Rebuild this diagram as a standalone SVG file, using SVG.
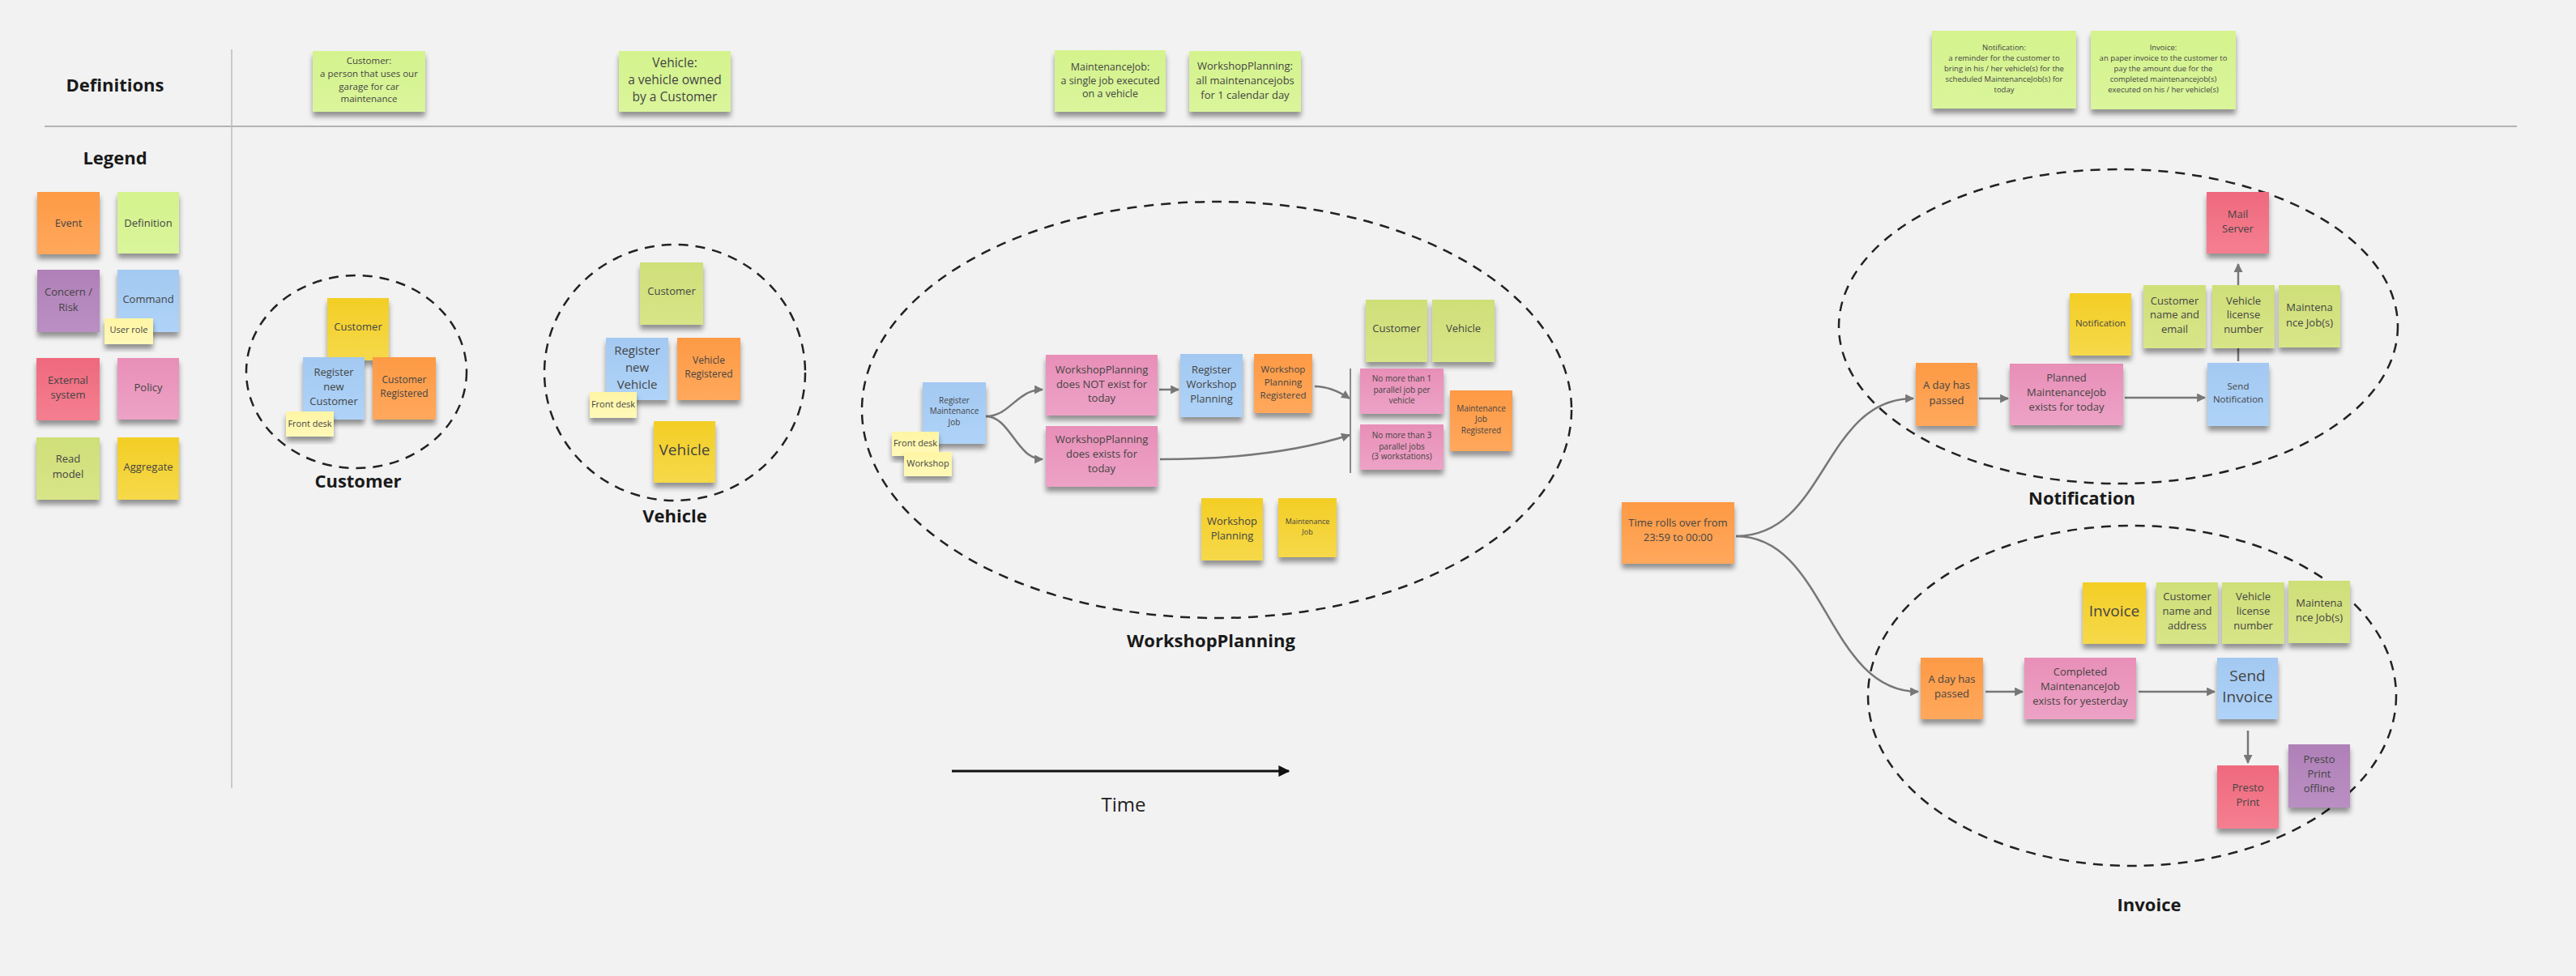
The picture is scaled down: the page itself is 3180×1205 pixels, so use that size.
<svg xmlns="http://www.w3.org/2000/svg" width="3180" height="1205" viewBox="0 0 3180 1205">
<defs>
<linearGradient id="gEv" x1="0" y1="0" x2="0" y2="1"><stop offset="0" stop-color="#FD9A45"/><stop offset="1" stop-color="#FFA85C"/></linearGradient>
<linearGradient id="gDf" x1="0" y1="0" x2="0" y2="1"><stop offset="0" stop-color="#D4F38D"/><stop offset="1" stop-color="#DAF59B"/></linearGradient>
<linearGradient id="gCr" x1="0" y1="0" x2="0" y2="1"><stop offset="0" stop-color="#AF80B8"/><stop offset="1" stop-color="#BA8FC3"/></linearGradient>
<linearGradient id="gCm" x1="0" y1="0" x2="0" y2="1"><stop offset="0" stop-color="#A3C9F2"/><stop offset="1" stop-color="#AFD3F8"/></linearGradient>
<linearGradient id="gUr" x1="0" y1="0" x2="0" y2="1"><stop offset="0" stop-color="#FFF5A4"/><stop offset="1" stop-color="#FFF9B9"/></linearGradient>
<linearGradient id="gEx" x1="0" y1="0" x2="0" y2="1"><stop offset="0" stop-color="#EF697D"/><stop offset="1" stop-color="#F47F90"/></linearGradient>
<linearGradient id="gPo" x1="0" y1="0" x2="0" y2="1"><stop offset="0" stop-color="#E88FB8"/><stop offset="1" stop-color="#EDA2C6"/></linearGradient>
<linearGradient id="gRm" x1="0" y1="0" x2="0" y2="1"><stop offset="0" stop-color="#CFDF78"/><stop offset="1" stop-color="#D8E588"/></linearGradient>
<linearGradient id="gAg" x1="0" y1="0" x2="0" y2="1"><stop offset="0" stop-color="#F3CE25"/><stop offset="1" stop-color="#F6D94A"/></linearGradient>
<filter id="sh" x="-20%" y="-20%" width="140%" height="150%">
<feGaussianBlur in="SourceAlpha" stdDeviation="3"/>
<feOffset dx="0" dy="6"/>
<feComponentTransfer><feFuncA type="linear" slope="0.4"/></feComponentTransfer>
<feMerge><feMergeNode/><feMergeNode in="SourceGraphic"/></feMerge>
</filter>
<marker id="ah" viewBox="0 0 10 10" refX="9" refY="5" markerWidth="11" markerHeight="11" markerUnits="userSpaceOnUse" orient="auto"><path d="M0,0 L10,5 L0,10 z" fill="#777"/></marker>
<marker id="ahb" viewBox="0 0 10 10" refX="9" refY="5" markerWidth="14" markerHeight="14" markerUnits="userSpaceOnUse" orient="auto"><path d="M0,0 L10,5 L0,10 z" fill="#111"/></marker>
</defs>
<style>
.s{filter:url(#sh)}
.ev{fill:url(#gEv)}.df{fill:url(#gDf)}.cr{fill:url(#gCr)}.cm{fill:url(#gCm)}.ur{fill:url(#gUr)}.ex{fill:url(#gEx)}.po{fill:url(#gPo)}.rm{fill:url(#gRm)}.ag{fill:url(#gAg)}
.t{font-family:"Open Sans","Liberation Sans",sans-serif;fill:#444;text-anchor:middle}
.h{font-family:"Open Sans","Liberation Sans",sans-serif;font-weight:700;font-size:22px;fill:#1a1a1a;text-anchor:middle}
.c{fill:none;stroke:#777;stroke-width:2.5;marker-end:url(#ah)}
.b{fill:none;stroke:#222;stroke-width:2.5;stroke-dasharray:12 9}
</style>
<rect x="0" y="0" width="3180" height="1205" fill="#F2F2F2"/>

<g id="frame">
<line x1="55" y1="156" x2="3107" y2="156" stroke="#b3b3b3" stroke-width="2"/>
<line x1="286" y1="61" x2="286" y2="973" stroke="#bbb" stroke-width="1.5"/>
<text class="h" x="142" y="113">Definitions</text>
<text class="h" x="142" y="203">Legend</text>
</g>

<g id="boundaries">
<ellipse class="b" cx="440" cy="459" rx="136" ry="119"/>
<ellipse class="b" cx="833" cy="460" rx="161" ry="158"/>
<ellipse class="b" cx="1502" cy="506" rx="438" ry="257"/>
<ellipse class="b" cx="2615" cy="403" rx="345" ry="194"/>
<ellipse class="b" cx="2632" cy="859" rx="326" ry="210"/>
<text class="h" x="442" y="602">Customer</text>
<text class="h" x="833" y="645">Vehicle</text>
<text class="h" x="1495" y="799">WorkshopPlanning</text>
<text class="h" x="2570" y="623">Notification</text>
<text class="h" x="2653" y="1125">Invoice</text>
</g>

<g id="time">
<line x1="1175" y1="952" x2="1591" y2="952" stroke="#111" stroke-width="3" marker-end="url(#ahb)"/>
<text x="1387" y="1002" font-family="'Open Sans','Liberation Sans',sans-serif" font-size="24" fill="#222" text-anchor="middle">Time</text>
</g>

<g id="connectors">
<path class="c" d="M1217,514 C1247,514 1255,481 1287,481"/>
<path class="c" d="M1217,514 C1247,514 1255,567 1287,567"/>
<path class="c" d="M1431,481 L1455,481"/>
<path class="c" d="M1623,477 C1640,477 1654,484 1666,492"/>
<path class="c" d="M1432,567 C1530,567 1610,555 1666,537"/>
<path class="c" d="M2143,662 C2255,662 2250,492 2362,492"/>
<path class="c" d="M2143,662 C2255,662 2255,854 2368,854"/>
<path class="c" d="M2443,492 L2479,492"/>
<path class="c" d="M2623,491 L2722,491"/>
<path class="c" d="M2763,446 L2763,326"/>
<path class="c" d="M2451,854 L2497,854"/>
<path class="c" d="M2640,854 L2734,854"/>
<path class="c" d="M2775,902 L2775,942"/>
</g>

<g id="def-customer"><rect class="s df" x="386" y="63" width="139" height="75"/><text class="t" font-size="11.5"><tspan x="455.5" y="79">Customer:</tspan><tspan x="455.5" y="95">a person that uses our</tspan><tspan x="455.5" y="111">garage for car</tspan><tspan x="455.5" y="126">maintenance</tspan></text></g>
<g id="def-vehicle"><rect class="s df" x="764" y="63" width="138" height="75"/><text class="t" font-size="15.5"><tspan x="833" y="82.5">Vehicle:</tspan><tspan x="833" y="103.5">a vehicle owned</tspan><tspan x="833" y="124.5">by a Customer</tspan></text></g>
<g id="def-maintenancejob"><rect class="s df" x="1302" y="62" width="137" height="76"/><text class="t" font-size="12.5"><tspan x="1370.5" y="86.5">MaintenanceJob:</tspan><tspan x="1370.5" y="103.5">a single job executed</tspan><tspan x="1370.5" y="119.5">on a vehicle</tspan></text></g>
<g id="def-workshopplanning"><rect class="s df" x="1468" y="63" width="138" height="75"/><text class="t" font-size="13"><tspan x="1537" y="86">WorkshopPlanning:</tspan><tspan x="1537" y="104">all maintenancejobs</tspan><tspan x="1537" y="122">for 1 calendar day</tspan></text></g>
<g id="def-notification"><rect class="s df" x="2385" y="38" width="178" height="96"/><text class="t" font-size="9.5"><tspan x="2474" y="61.5">Notification:</tspan><tspan x="2474" y="74.5">a reminder for the customer to</tspan><tspan x="2474" y="87.5">bring in his / her vehicle(s) for the</tspan><tspan x="2474" y="100.5">scheduled MaintenanceJob(s) for</tspan><tspan x="2474" y="113.5">today</tspan></text></g>
<g id="def-invoice"><rect class="s df" x="2581" y="38" width="179" height="97"/><text class="t" font-size="9.5"><tspan x="2670.5" y="61.5">Invoice:</tspan><tspan x="2670.5" y="74.5">an paper invoice to the customer to</tspan><tspan x="2670.5" y="87.5">pay the amount due for the</tspan><tspan x="2670.5" y="100.5">completed maintenancejob(s)</tspan><tspan x="2670.5" y="113.5">executed on his / her vehicle(s)</tspan></text></g>

<g id="legend-event"><rect class="s ev" x="46" y="237" width="77" height="77"/><text class="t" font-size="13" x="84.5" y="280">Event</text></g>
<g id="legend-definition"><rect class="s df" x="145" y="237" width="76" height="76"/><text class="t" font-size="13" x="183" y="280">Definition</text></g>
<g id="legend-concern"><rect class="s cr" x="46" y="333" width="77" height="77"/><text class="t" font-size="13"><tspan x="84.5" y="365">Concern /</tspan><tspan x="84.5" y="384">Risk</tspan></text></g>
<g id="legend-command"><rect class="s cm" x="145" y="333" width="76" height="77"/><text class="t" font-size="13" x="183" y="374">Command</text></g>
<g id="legend-userrole"><rect class="s ur" x="129" y="393" width="60" height="32"/><text class="t" font-size="11" x="159" y="411">User role</text></g>
<g id="legend-external"><rect class="s ex" x="45" y="442" width="78" height="77"/><text class="t" font-size="13"><tspan x="84" y="474">External</tspan><tspan x="84" y="492">system</tspan></text></g>
<g id="legend-policy"><rect class="s po" x="145" y="442" width="76" height="76"/><text class="t" font-size="13" x="183" y="483">Policy</text></g>
<g id="legend-readmodel"><rect class="s rm" x="45" y="540" width="78" height="77"/><text class="t" font-size="13"><tspan x="84" y="571">Read</tspan><tspan x="84" y="590">model</tspan></text></g>
<g id="legend-aggregate"><rect class="s ag" x="145" y="540" width="76" height="77"/><text class="t" font-size="13" x="183" y="581">Aggregate</text></g>

<g id="cu-customer"><rect class="s ag" x="404" y="368" width="76" height="77"/><text class="t" font-size="13" x="442" y="408">Customer</text></g>
<g id="cu-register"><rect class="s cm" x="374" y="441" width="76" height="77"/><text class="t" font-size="13"><tspan x="412" y="463.5">Register</tspan><tspan x="412" y="481.5">new</tspan><tspan x="412" y="499.5">Customer</tspan></text></g>
<g id="cu-registered"><rect class="s ev" x="460" y="441" width="78" height="77"/><text class="t" font-size="12"><tspan x="499" y="473">Customer</tspan><tspan x="499" y="490">Registered</tspan></text></g>
<g id="cu-frontdesk"><rect class="s ur" x="353" y="508" width="59" height="31"/><text class="t" font-size="11" x="382.5" y="527">Front desk</text></g>

<g id="ve-customer"><rect class="s rm" x="790" y="324" width="78" height="77"/><text class="t" font-size="13" x="829" y="364">Customer</text></g>
<g id="ve-register"><rect class="s cm" x="748" y="417" width="77" height="77"/><text class="t" font-size="15"><tspan x="786.5" y="437.5">Register</tspan><tspan x="786.5" y="458.5">new</tspan><tspan x="786.5" y="479.5">Vehicle</tspan></text></g>
<g id="ve-registered"><rect class="s ev" x="836" y="417" width="78" height="77"/><text class="t" font-size="12"><tspan x="875" y="449">Vehicle</tspan><tspan x="875" y="466">Registered</tspan></text></g>
<g id="ve-frontdesk"><rect class="s ur" x="728" y="484" width="58" height="32"/><text class="t" font-size="11" x="757" y="503">Front desk</text></g>
<g id="ve-vehicle"><rect class="s ag" x="807" y="520" width="76" height="76"/><text class="t" font-size="19" x="845" y="561.5">Vehicle</text></g>

<g id="wp-register-job"><rect class="s cm" x="1139" y="472" width="78" height="76"/><text class="t" font-size="10"><tspan x="1178" y="497.5">Register</tspan><tspan x="1178" y="511">Maintenance</tspan><tspan x="1178" y="524.5">Job</tspan></text></g>
<g id="wp-frontdesk"><rect class="s ur" x="1101" y="533" width="58" height="30"/><text class="t" font-size="11" x="1130" y="551">Front desk</text></g>
<g id="wp-workshop"><rect class="s ur" x="1116" y="558" width="59" height="30"/><text class="t" font-size="11" x="1145.5" y="576">Workshop</text></g>
<g id="wp-not-exist"><rect class="s po" x="1291" y="438" width="138" height="75"/><text class="t" font-size="13"><tspan x="1360" y="461">WorkshopPlanning</tspan><tspan x="1360" y="479">does NOT exist for</tspan><tspan x="1360" y="496">today</tspan></text></g>
<g id="wp-exists"><rect class="s po" x="1291" y="526" width="138" height="75"/><text class="t" font-size="13"><tspan x="1360" y="547">WorkshopPlanning</tspan><tspan x="1360" y="565">does exists for</tspan><tspan x="1360" y="583">today</tspan></text></g>
<g id="wp-register-planning"><rect class="s cm" x="1457" y="437" width="77" height="78"/><text class="t" font-size="13"><tspan x="1495.5" y="461">Register</tspan><tspan x="1495.5" y="479">Workshop</tspan><tspan x="1495.5" y="497">Planning</tspan></text></g>
<g id="wp-planning-registered"><rect class="s ev" x="1548" y="437" width="72" height="73"/><text class="t" font-size="11.5"><tspan x="1584" y="460">Workshop</tspan><tspan x="1584" y="476">Planning</tspan><tspan x="1584" y="492">Registered</tspan></text></g>
<g id="wp-rule-line"><line x1="1667" y1="455" x2="1667" y2="584" stroke="#888" stroke-width="2"/></g>
<g id="wp-customer"><rect class="s rm" x="1686" y="370" width="76" height="77"/><text class="t" font-size="13" x="1724" y="409.5">Customer</text></g>
<g id="wp-vehicle"><rect class="s rm" x="1768" y="370" width="77" height="77"/><text class="t" font-size="13" x="1806.5" y="409.5">Vehicle</text></g>
<g id="wp-rule1"><rect class="s po" x="1679" y="455" width="103" height="56"/><text class="t" font-size="10"><tspan x="1730.5" y="471">No more than 1</tspan><tspan x="1730.5" y="485">parallel job per</tspan><tspan x="1730.5" y="498">vehicle</tspan></text></g>
<g id="wp-rule3"><rect class="s po" x="1679" y="524" width="103" height="56"/><text class="t" font-size="10"><tspan x="1730.5" y="540.5">No more than 3</tspan><tspan x="1730.5" y="554.5">parallel jobs</tspan><tspan x="1730.5" y="567">(3 workstations)</tspan></text></g>
<g id="wp-job-registered"><rect class="s ev" x="1790" y="482" width="77" height="75"/><text class="t" font-size="10"><tspan x="1828.5" y="507.5">Maintenance</tspan><tspan x="1828.5" y="521">Job</tspan><tspan x="1828.5" y="535">Registered</tspan></text></g>
<g id="wp-planning-agg"><rect class="s ag" x="1483" y="615" width="76" height="77"/><text class="t" font-size="13"><tspan x="1521" y="647.5">Workshop</tspan><tspan x="1521" y="665.5">Planning</tspan></text></g>
<g id="wp-job-agg"><rect class="s ag" x="1578" y="615" width="72" height="73"/><text class="t" font-size="9"><tspan x="1614" y="647">Maintenance</tspan><tspan x="1614" y="659.5">Job</tspan></text></g>

<g id="time-rolls"><rect class="s ev" x="2002" y="620" width="139" height="76"/><text class="t" font-size="13"><tspan x="2071.5" y="650">Time rolls over from</tspan><tspan x="2071.5" y="668">23:59 to 00:00</tspan></text></g>

<g id="no-day-passed"><rect class="s ev" x="2365" y="448" width="76" height="78"/><text class="t" font-size="13"><tspan x="2403" y="480">A day has</tspan><tspan x="2403" y="498.5">passed</tspan></text></g>
<g id="no-planned"><rect class="s po" x="2481" y="449" width="140" height="76"/><text class="t" font-size="13"><tspan x="2551" y="471">Planned</tspan><tspan x="2551" y="489">MaintenanceJob</tspan><tspan x="2551" y="507">exists for today</tspan></text></g>
<g id="no-notification"><rect class="s ag" x="2555" y="362" width="76" height="77"/><text class="t" font-size="11.5" x="2593" y="402.5">Notification</text></g>
<g id="no-customer"><rect class="s rm" x="2646" y="352" width="77" height="78"/><text class="t" font-size="13"><tspan x="2684.5" y="375.5">Customer</tspan><tspan x="2684.5" y="393">name and</tspan><tspan x="2684.5" y="411">email</tspan></text></g>
<g id="no-vehicle"><rect class="s rm" x="2731" y="352" width="77" height="78"/><text class="t" font-size="13"><tspan x="2769.5" y="375.5">Vehicle</tspan><tspan x="2769.5" y="393">license</tspan><tspan x="2769.5" y="411">number</tspan></text></g>
<g id="no-jobs"><rect class="s rm" x="2813" y="352" width="76" height="77"/><text class="t" font-size="13"><tspan x="2851" y="384">Maintena</tspan><tspan x="2851" y="403">nce Job(s)</tspan></text></g>
<g id="no-mailserver"><rect class="s ex" x="2724" y="237" width="77" height="76"/><text class="t" font-size="13"><tspan x="2762.5" y="268.5">Mail</tspan><tspan x="2762.5" y="287">Server</tspan></text></g>
<g id="no-send"><rect class="s cm" x="2725" y="448" width="76" height="78"/><text class="t" font-size="11.5"><tspan x="2763" y="481">Send</tspan><tspan x="2763" y="497">Notification</tspan></text></g>

<g id="in-day-passed"><rect class="s ev" x="2371" y="812" width="77" height="76"/><text class="t" font-size="13"><tspan x="2409.5" y="843">A day has</tspan><tspan x="2409.5" y="861">passed</tspan></text></g>
<g id="in-completed"><rect class="s po" x="2499" y="812" width="138" height="76"/><text class="t" font-size="13"><tspan x="2568" y="834">Completed</tspan><tspan x="2568" y="852">MaintenanceJob</tspan><tspan x="2568" y="870">exists for yesterday</tspan></text></g>
<g id="in-send"><rect class="s cm" x="2737" y="812" width="75" height="76"/><text class="t" font-size="19"><tspan x="2774.5" y="841">Send</tspan><tspan x="2774.5" y="867">Invoice</tspan></text></g>
<g id="in-invoice"><rect class="s ag" x="2571" y="719" width="78" height="76"/><text class="t" font-size="19" x="2610" y="761">Invoice</text></g>
<g id="in-customer"><rect class="s rm" x="2662" y="719" width="76" height="76"/><text class="t" font-size="13"><tspan x="2700" y="741">Customer</tspan><tspan x="2700" y="759">name and</tspan><tspan x="2700" y="777">address</tspan></text></g>
<g id="in-vehicle"><rect class="s rm" x="2743" y="719" width="77" height="76"/><text class="t" font-size="13"><tspan x="2781.5" y="741">Vehicle</tspan><tspan x="2781.5" y="759">license</tspan><tspan x="2781.5" y="777">number</tspan></text></g>
<g id="in-jobs"><rect class="s rm" x="2825" y="717" width="76" height="77"/><text class="t" font-size="13"><tspan x="2863" y="748.5">Maintena</tspan><tspan x="2863" y="767">nce Job(s)</tspan></text></g>
<g id="in-presto"><rect class="s ex" x="2737" y="945" width="76" height="78"/><text class="t" font-size="13"><tspan x="2775" y="977">Presto</tspan><tspan x="2775" y="995">Print</tspan></text></g>
<g id="in-presto-offline"><rect class="s cr" x="2825" y="919" width="76" height="78"/><text class="t" font-size="13"><tspan x="2863" y="942">Presto</tspan><tspan x="2863" y="960">Print</tspan><tspan x="2863" y="978">offline</tspan></text></g>
</svg>
